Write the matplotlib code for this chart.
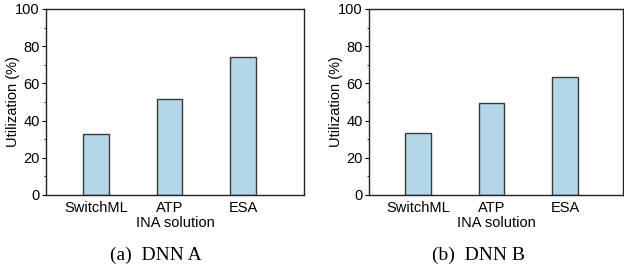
import matplotlib
matplotlib.use("Agg")
import matplotlib.pyplot as plt
from matplotlib.ticker import MultipleLocator

categories = ["SwitchML", "ATP", "ESA"]
dnn_a = [32.7, 51.4, 74.1]
dnn_b = [33.2, 49.3, 63.2]
captions = ["(a)  DNN A", "(b)  DNN B"]

W, H = 624, 269
fig = plt.figure(figsize=(W / 100, H / 100), dpi=100)

sans = "Liberation Sans"
serif = "Liberation Serif"
fs = 10.5

def ax_rect(l, r, t, b):
    return [l / W, 1 - b / H, (r - l) / W, (b - t) / H]

panels = [
    (ax_rect(46, 304, 9, 195), dnn_a, captions[0], 156, (-0.68, 2.83), -0.100),
    (ax_rect(369, 623, 9, 195), dnn_b, captions[1], 478, (-0.67, 2.79), -0.102),
]

for rect, vals, cap, capx, xl, ylx in panels:
    ax = fig.add_axes(rect)
    x = list(range(len(categories)))
    ax.bar(x, vals, width=0.35, color="#b3d6e8", edgecolor="#3a3a3a", linewidth=1.0, zorder=2)
    ax.set_xlim(*xl)
    ax.set_ylim(0, 100)
    ax.set_xticks(x)
    ax.set_xticklabels(categories, fontfamily=sans, fontsize=fs)
    ax.yaxis.set_major_locator(MultipleLocator(20))
    ax.yaxis.set_minor_locator(MultipleLocator(10))
    ax.tick_params(axis="y", which="major", direction="out", length=3, width=0.8, pad=1.5, labelsize=fs)
    ax.tick_params(axis="y", which="minor", direction="out", length=1.5, width=0.6)
    ax.tick_params(axis="x", length=0, pad=4)
    for lab in ax.get_yticklabels():
        lab.set_fontfamily(sans)
    for s in ax.spines.values():
        s.set_linewidth(1.0)
        s.set_color("#222222")
    ax.set_ylabel("Utilization (%)", fontfamily=sans, fontsize=fs)
    ax.yaxis.set_label_coords(ylx, 0.5)
    ax.set_xlabel("INA solution", fontfamily=sans, fontsize=fs, labelpad=1)
    fig.text(capx / W, 1 - 255 / H, cap, ha="center", va="center", fontfamily=serif, fontsize=14)

fig.savefig("out.png", dpi=100)
